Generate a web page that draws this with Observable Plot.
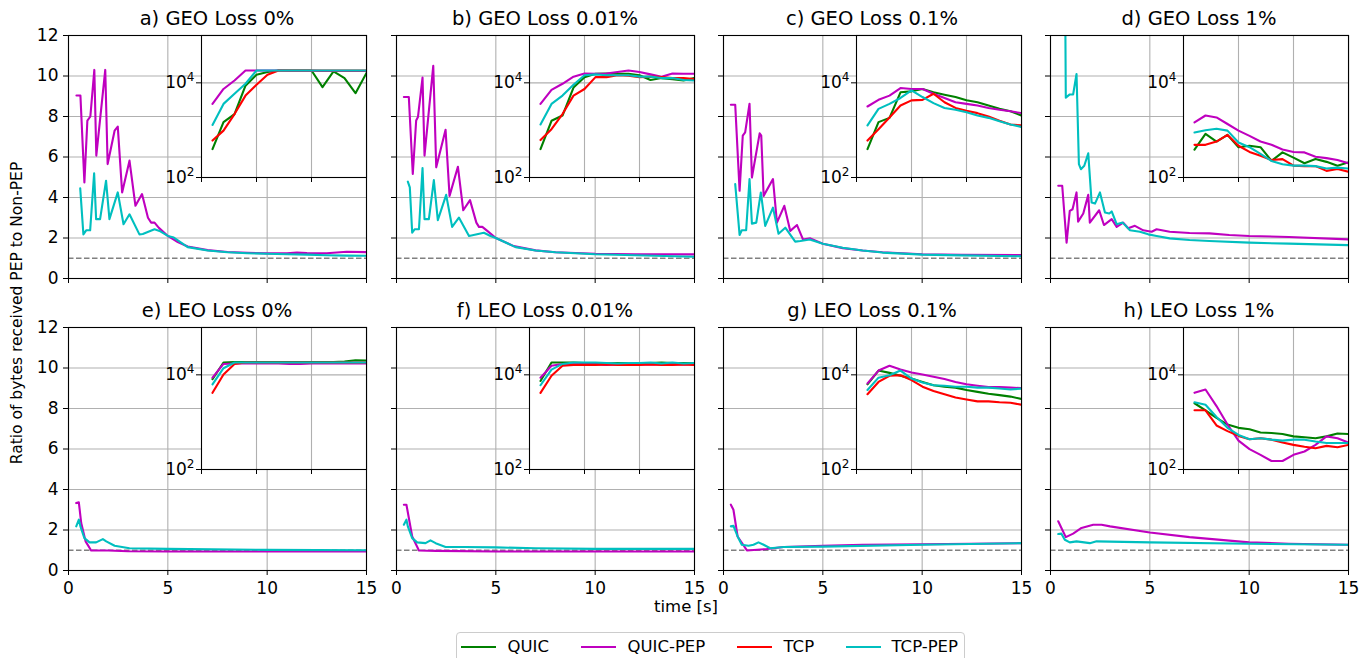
<!DOCTYPE html>
<html>
<head>
<meta charset="utf-8">
<script src="https://cdn.jsdelivr.net/npm/d3@7"></script>
<script src="https://cdn.jsdelivr.net/npm/@observablehq/plot@0.6"></script>
<style>
  body { margin: 0; background: #fff; }
  #fig { position: relative; width: 1371px; height: 658px; overflow: hidden; background: #fff;
         font-family: "DejaVu Sans", sans-serif; color: #000; }
  #fig svg { position: absolute; }
  .ttl { position: absolute; width: 320px; text-align: center; font-size: 19.5px; line-height: 1; white-space: nowrap; }
  .lbl { position: absolute; font-size: 16.5px; line-height: 1; white-space: nowrap; }
  .ylbl { font-size: 15.5px; }
  .leg { position: absolute; left: 456px; top: 632px; width: 509px; height: 40px; border: 1px solid #cccccc;
         border-radius: 4px; background: #fff; box-sizing: border-box; }
  .sw { position: absolute; height: 2.6px; width: 35px; }
  .lt { position: absolute; font-size: 16.5px; line-height: 1; white-space: nowrap; }
</style>
</head>
<body>
<div id="fig"></div>
<script>
// ---------------- series / labels ----------------
const seriesNames = ["QUIC", "QUIC-PEP", "TCP", "TCP-PEP"];
const seriesColors = ["#008000", "#bf00bf", "#ff0000", "#00bfbf"];
const panelTitles = ["a) GEO Loss 0%", "b) GEO Loss 0.01%", "c) GEO Loss 0.1%", "d) GEO Loss 1%",
                     "e) LEO Loss 0%", "f) LEO Loss 0.01%", "g) LEO Loss 0.1%", "h) LEO Loss 1%"];
const xTicks = [0, 5, 10, 15];
const yTicks = [0, 2, 4, 6, 8, 10, 12];
const refLine = [1];
const insetXGrid = [5, 10];
const insetYTicks = [100, 10000];
const xLabel = "time [s]";
const yLabel = "Ratio of bytes received PEP to Non-PEP";

// ---------------- main panels: [time s, ratio] ----------------
const aQuicPep = [[0.4,9.04],[0.6,9.04],[0.8,4.74],[0.95,7.8],[1.1,8.0],[1.3,10.3],[1.4,6.07],[1.85,10.3],[1.97,5.65],[2.32,7.3],[2.48,7.5],[2.7,4.25],[3.07,5.82],[3.37,3.59],[3.7,4.17],[4.0,3.0],[4.16,2.76],[4.33,2.76],[4.55,2.5],[5.0,2.1],[5.5,1.8],[6,1.58],[7,1.4],[8,1.31],[9,1.27],[10,1.24],[11,1.24],[11.5,1.28],[12,1.26],[13,1.25],[14,1.32],[15,1.3]];
const aTcpPep = [[0.59,4.45],[0.75,2.18],[0.89,2.38],[1.09,2.38],[1.29,5.19],[1.39,2.93],[1.59,2.93],[1.89,4.83],[2.06,2.93],[2.48,4.25],[2.77,2.68],[3.07,3.17],[3.57,2.18],[3.74,2.2],[4.33,2.43],[4.58,2.35],[5.0,2.1],[5.3,2.02],[6,1.55],[7,1.38],[8,1.3],[9,1.25],[10,1.22],[11,1.2],[12,1.18],[13,1.15],[14,1.13],[15,1.12]];
const bQuicPep = [[0.37,8.96],[0.62,8.96],[0.82,5.16],[0.99,7.8],[1.08,7.97],[1.31,9.92],[1.41,6.07],[1.85,10.5],[2.0,5.49],[2.47,7.34],[2.67,4.08],[3.09,5.52],[3.36,3.37],[3.7,3.87],[4.02,2.76],[4.15,2.55],[4.32,2.55],[4.57,2.35],[5.0,2.0],[5.9,1.6],[7,1.39],[8,1.3],[9,1.26],[10,1.22],[12,1.2],[13,1.2],[15,1.19]];
const bTcpPep = [[0.57,4.78],[0.67,4.5],[0.79,2.26],[0.91,2.43],[1.13,2.43],[1.31,5.45],[1.41,2.93],[1.63,2.93],[1.88,4.86],[2.08,2.88],[2.5,4.13],[2.8,2.55],[3.14,3.01],[3.65,2.1],[4.4,2.26],[4.73,2.1],[5.0,2.0],[6,1.55],[7,1.38],[8,1.3],[10,1.2],[12,1.15],[15,1.07]];
const cQuicPep = [[0.37,8.58],[0.59,8.58],[0.81,4.33],[0.97,7.06],[1.09,7.22],[1.31,8.63],[1.43,4.99],[1.82,7.17],[1.9,7.06],[2.02,4.08],[2.49,4.91],[2.69,2.76],[3.06,3.59],[3.36,2.35],[3.7,2.64],[4.0,1.93],[4.37,1.98],[5,1.72],[6,1.5],[7,1.38],[8,1.3],[10,1.2],[12,1.17],[15,1.16]];
const cTcpPep = [[0.59,4.66],[0.81,2.15],[0.92,2.38],[1.14,2.38],[1.31,4.91],[1.43,2.71],[1.65,2.76],[1.88,4.25],[2.1,2.6],[2.49,3.5],[2.77,2.21],[3.11,2.51],[3.61,1.82],[3.87,1.85],[4.34,1.93],[5,1.72],[6,1.52],[7,1.38],[8,1.28],[10,1.18],[12,1.14],[15,1.1]];
const dQuicPep = [[0.39,4.58],[0.59,4.58],[0.81,1.77],[0.97,3.34],[1.11,3.42],[1.31,4.25],[1.39,2.81],[1.65,3.21],[1.9,4.13],[1.98,2.76],[2.45,3.37],[2.69,2.64],[3.08,2.93],[3.33,2.55],[3.66,2.76],[3.91,2.48],[4.25,2.6],[4.67,2.38],[5.09,2.31],[5.34,2.43],[6,2.31],[7,2.25],[8,2.23],[9,2.15],[10,2.1],[12,2.05],[15,1.93]];
const dTcpPep = [[0.7,20],[0.77,8.93],[0.97,9.09],[1.14,9.09],[1.31,10.1],[1.43,5.65],[1.53,5.4],[1.7,5.57],[1.9,6.18],[2.07,3.75],[2.24,3.7],[2.49,4.25],[2.74,3.26],[2.96,3.21],[3.08,3.31],[3.33,2.68],[3.63,2.76],[4.0,2.38],[4.5,2.31],[4.92,2.18],[5.34,2.1],[6,1.98],[7,1.9],[8,1.85],[10,1.77],[12,1.72],[15,1.65]];
const eQuicPep = [[0.39,3.33],[0.52,3.37],[0.64,2.34],[0.86,1.44],[1.14,0.99],[1.56,0.99],[2,0.99],[3,0.95],[5,0.94],[10,0.94],[15,0.94]];
const eTcpPep = [[0.39,2.18],[0.52,2.51],[0.6,2.18],[0.8,1.6],[1.06,1.39],[1.39,1.39],[1.73,1.55],[1.9,1.44],[2.32,1.22],[3.07,1.1],[5,1.07],[10,1.02],[15,1.0]];
const fQuicPep = [[0.37,3.25],[0.5,3.25],[0.79,1.68],[1.13,0.99],[2,0.97],[5,0.94],[10,0.94],[15,0.94]];
const fTcpPep = [[0.37,2.26],[0.5,2.51],[0.57,2.18],[0.79,1.6],[1.04,1.39],[1.46,1.35],[1.71,1.49],[1.97,1.35],[2.47,1.16],[3.4,1.16],[5,1.14],[7,1.1],[10,1.07],[15,1.07]];
const gQuicPep = [[0.37,3.25],[0.5,3.0],[0.71,1.68],[1.18,0.99],[2.18,1.06],[3.03,1.16],[5,1.22],[7,1.27],[10,1.3],[15,1.35]];
const gTcpPep = [[0.37,2.18],[0.5,2.21],[0.71,1.68],[0.92,1.27],[1.26,1.22],[1.51,1.27],[1.76,1.39],[2.02,1.27],[2.35,1.1],[3.03,1.16],[5,1.18],[10,1.27],[15,1.35]];
const hQuicPep = [[0.39,2.43],[0.55,2.1],[0.77,1.65],[1.14,1.82],[1.56,2.1],[2.15,2.26],[2.57,2.26],[3,2.18],[5,1.88],[7,1.65],[10,1.39],[12,1.32],[15,1.27]];
const hTcpPep = [[0.39,1.8],[0.55,1.82],[0.72,1.52],[0.97,1.39],[1.31,1.44],[1.98,1.35],[2.32,1.44],[5,1.39],[10,1.32],[15,1.27]];

// ---------------- insets: bytes received (log scale), one value per second ----------------
const insetTime = [1,2,3,4,5,6,7,8,9,10,11,12,13,14,15];
const aInQuic    = [398,1480,2190,8710,14800,17000,18200,18200,18200,18200,8130,17400,12600,6030,16200];
const aInQuicPep = [3590,7410,11200,18200,18200,18200,18200,18000,18000,18000,17800,17800,17800,17800,17800];
const aInTcp     = [603,977,2190,5370,9120,14800,18200,18200,18200,18200,18200,18200,18200,18200,18200];
const aInTcpPep  = [1290,3590,5890,9550,18200,18200,18200,18200,18200,18200,18200,18200,18200,18200,18200];
const bInQuic    = [398,1580,2040,7940,13200,15500,15800,15500,15500,14500,11500,12600,12000,11200,12600];
const bInQuicPep = [3590,7080,9550,13500,15800,15500,15800,17000,18200,17000,15100,13500,15800,15500,15500];
const bInTcp     = [617,1050,2190,5370,7410,13200,13200,14500,14100,13200,13500,13200,12600,12600,12000];
const bInTcpPep  = [1320,3590,5370,9120,14500,15100,14500,14500,14500,13500,13500,12600,12600,11500,11200];
const cInQuic    = [398,1480,1820,6310,6610,7410,6310,5620,5010,4270,3890,3310,2820,2510,2040];
const cInQuicPep = [3160,4370,5370,7760,7410,7410,5890,4790,3890,3590,3310,2950,2690,2510,2290];
const cInTcp     = [603,1050,1860,3310,4270,4370,5890,3890,2950,2570,2290,1950,1580,1320,1260];
const cInTcpPep  = [1260,2820,3590,4790,6920,5010,3720,2950,2690,2400,2040,1820,1550,1320,1170];
const dInQuic    = [389,832,575,794,437,468,437,224,339,263,200,245,214,178,209];
const dInQuicPep = [1460,2040,1860,1350,977,759,575,490,389,347,339,275,257,234,200];
const dInTcp     = [490,490,575,794,468,347,288,234,245,178,174,174,138,151,132];
const dInTcpPep  = [891,1000,1070,977,550,437,316,224,191,178,178,174,155,162,155];
const eInQuic    = [8130,18200,18600,18600,18600,18600,18600,18600,18600,18600,18600,18600,19000,20400,20000];
const eInQuicPep = [8710,17000,17400,17400,17400,17400,17400,17000,17000,17400,17400,17400,17400,17400,17400];
const eInTcp     = [4170,10200,17000,18200,18200,18200,18200,18200,18200,18200,18200,18200,18200,18200,18200];
const eInTcpPep  = [6310,13800,18200,18200,18200,18200,18200,18200,18200,18200,18200,18200,18200,18200,18200];
const fInQuic    = [7410,18200,18200,18200,17800,17800,17400,17800,17800,17800,17800,18200,17800,17800,17800];
const fInQuicPep = [8710,15500,17000,16600,16600,16600,16200,16600,16600,16600,16600,16600,16600,16600,16600];
const fInTcp     = [4170,9550,15500,16200,16200,16200,16600,16200,16200,16200,16600,16200,16200,16600,16200];
const fInTcpPep  = [6030,12900,17000,18200,18200,18200,17800,17400,17800,17800,18200,17400,18200,17400,17800];
const gInQuic    = [6310,12300,11000,9550,8320,7080,6030,5620,5370,4790,4370,3980,3720,3470,3090];
const gInQuicPep = [6610,12300,15500,12900,11200,10200,9120,8130,7080,6310,5890,5500,5500,5370,5250];
const gInTcp     = [3890,7080,9550,9770,7760,5620,4570,3890,3310,3020,2750,2750,2630,2570,2340];
const gInTcpPep  = [4790,8710,9770,12300,8320,6920,6030,5890,5620,5620,5370,5370,5130,4900,5130];
const hInQuic    = [2510,1780,1230,891,759,708,603,589,562,501,479,457,501,575,562];
const hInQuicPep = [4170,4900,2190,891,407,269,204,151,151,204,240,331,501,457,372];
const hInTcp     = [1780,1780,851,646,513,437,457,427,372,331,302,282,316,295,331];
const hInTcpPep  = [2630,2340,1290,759,537,437,457,427,407,427,427,389,363,363,363];

const panels = [
  {qp: aQuicPep, tp: aTcpPep, ins: [aInQuic, aInQuicPep, aInTcp, aInTcpPep]},
  {qp: bQuicPep, tp: bTcpPep, ins: [bInQuic, bInQuicPep, bInTcp, bInTcpPep]},
  {qp: cQuicPep, tp: cTcpPep, ins: [cInQuic, cInQuicPep, cInTcp, cInTcpPep]},
  {qp: dQuicPep, tp: dTcpPep, ins: [dInQuic, dInQuicPep, dInTcp, dInTcpPep]},
  {qp: eQuicPep, tp: eTcpPep, ins: [eInQuic, eInQuicPep, eInTcp, eInTcpPep]},
  {qp: fQuicPep, tp: fTcpPep, ins: [fInQuic, fInQuicPep, fInTcp, fInTcpPep]},
  {qp: gQuicPep, tp: gTcpPep, ins: [gInQuic, gInQuicPep, gInTcp, gInTcpPep]},
  {qp: hQuicPep, tp: hTcpPep, ins: [hInQuic, hInQuicPep, hInTcp, hInTcpPep]}
];

// ---------------- layout ----------------
const fig = document.getElementById("fig");
const colLeft = [68, 396, 723, 1050];
const rowTop = [35, 327];
const PW = 298, PH = 243;
const ML = 50, MR = 4, MT = 4, MB = 34;
const IOFF = 133, IW = PW - IOFF, IH = 142;
const iML = 46, iMR = 3, iMT = 3, iMB = 9;
const gridColor = "#b0b0b0";
const fontStyle = {background: "transparent", fontFamily: "DejaVu Sans", fontSize: "17px", overflow: "visible", color: "#000"};
const rows = pairs => pairs.map(([t, v]) => ({t, v}));

panels.forEach((p, i) => {
  const col = i % 4, row = Math.floor(i / 4);
  const main = Plot.plot({
    width: PW + ML + MR, height: PH + MT + MB,
    marginLeft: ML, marginRight: MR, marginTop: MT, marginBottom: MB,
    style: fontStyle,
    x: {domain: [0, 15], ticks: xTicks, tickSize: 5, tickPadding: 6, label: null,
        tickFormat: row === 1 ? (d => String(d)) : (() => "")},
    y: {domain: [0, 12], ticks: yTicks, tickSize: 5, tickPadding: 5, label: null,
        tickFormat: col === 0 ? (d => String(d)) : (() => "")},
    marks: [
      Plot.ruleX(xTicks, {stroke: gridColor, strokeWidth: 1.1}),
      Plot.ruleY(yTicks, {stroke: gridColor, strokeWidth: 1.1}),
      Plot.ruleY(refLine, {stroke: "#808080", strokeWidth: 1.4, strokeDasharray: "5.5,2.5"}),
      Plot.line(rows(p.qp), {x: "t", y: "v", stroke: seriesColors[1], strokeWidth: 2.1, clip: true}),
      Plot.line(rows(p.tp), {x: "t", y: "v", stroke: seriesColors[3], strokeWidth: 2.1, clip: true}),
      Plot.frame({stroke: "#000", strokeWidth: 1.1})
    ]
  });
  main.style.left = (colLeft[col] - ML) + "px";
  main.style.top = (rowTop[row] - MT) + "px";
  fig.appendChild(main);

  const insetMarks = [
    Plot.frame({fill: "#fff", stroke: "none"}),
    Plot.ruleX(insetXGrid, {stroke: gridColor, strokeWidth: 1.1}),
    Plot.ruleY(insetYTicks, {stroke: gridColor, strokeWidth: 1.1})
  ];
  p.ins.forEach((vals, k) => {
    insetMarks.push(Plot.line(insetTime.map((t, j) => ({t, v: vals[j]})),
      {x: "t", y: "v", stroke: seriesColors[k], strokeWidth: 2.1, clip: true}));
  });
  insetMarks.push(Plot.frame({stroke: "#000", strokeWidth: 1.1}));
  const inset = Plot.plot({
    width: IW + iML + iMR, height: IH + iMT + iMB,
    marginLeft: iML, marginRight: iMR, marginTop: iMT, marginBottom: iMB,
    style: fontStyle,
    x: {domain: [0, 15], ticks: xTicks, tickSize: 5, tickFormat: () => "", label: null},
    y: {type: "log", domain: [100, 100000], ticks: insetYTicks, tickSize: 5, tickPadding: 2, label: null,
        tickFormat: d => d === 100 ? "10²" : "10⁴"},
    marks: insetMarks
  });
  // render exponents as real superscripts
  inset.querySelectorAll("text").forEach(t => {
    const s = t.textContent;
    const m = s.match(/^10([²⁴])$/);
    if (m) {
      const exp = m[1] === "²" ? "2" : "4";
      t.textContent = "10";
      const ts = document.createElementNS("http://www.w3.org/2000/svg", "tspan");
      ts.setAttribute("dy", "-7");
      ts.setAttribute("font-size", "12");
      ts.textContent = exp;
      t.appendChild(ts);
    }
  });
  inset.style.left = (colLeft[col] + IOFF - iML) + "px";
  inset.style.top = (rowTop[row] - iMT) + "px";
  fig.appendChild(inset);

  const title = document.createElement("div");
  title.className = "ttl";
  title.textContent = panelTitles[i];
  title.style.left = (colLeft[col] + PW / 2 - 160) + "px";
  title.style.top = (rowTop[row] - 10 - 16.5) + "px";
  fig.appendChild(title);
});

// axis labels
const xl = document.createElement("div");
xl.className = "lbl";
xl.textContent = xLabel;
xl.style.left = "686px"; xl.style.top = "599px"; xl.style.transform = "translateX(-50%)";
fig.appendChild(xl);
const yl = document.createElement("div");
yl.className = "lbl ylbl";
yl.textContent = yLabel;
yl.style.left = "18px"; yl.style.top = "313px";
yl.style.transform = "translate(-50%,-50%) rotate(-90deg)";
fig.appendChild(yl);

// legend
const leg = document.createElement("div");
leg.className = "leg";
fig.appendChild(leg);
const swatchX = [461, 581, 737, 846];
const textX = [507.5, 627.5, 783.5, 891.5];
seriesNames.forEach((name, k) => {
  const sw = document.createElement("div");
  sw.className = "sw";
  sw.style.background = seriesColors[k];
  sw.style.left = (swatchX[k] - 456 - 1) + "px";
  sw.style.top = (647 - 632 - 1 - 1.3) + "px";
  leg.appendChild(sw);
  const tx = document.createElement("div");
  tx.className = "lt";
  tx.textContent = name;
  tx.style.left = (textX[k] - 456 - 1) + "px";
  tx.style.top = (638.8 - 632 - 1) + "px";
  leg.appendChild(tx);
});
</script>
</body>
</html>
